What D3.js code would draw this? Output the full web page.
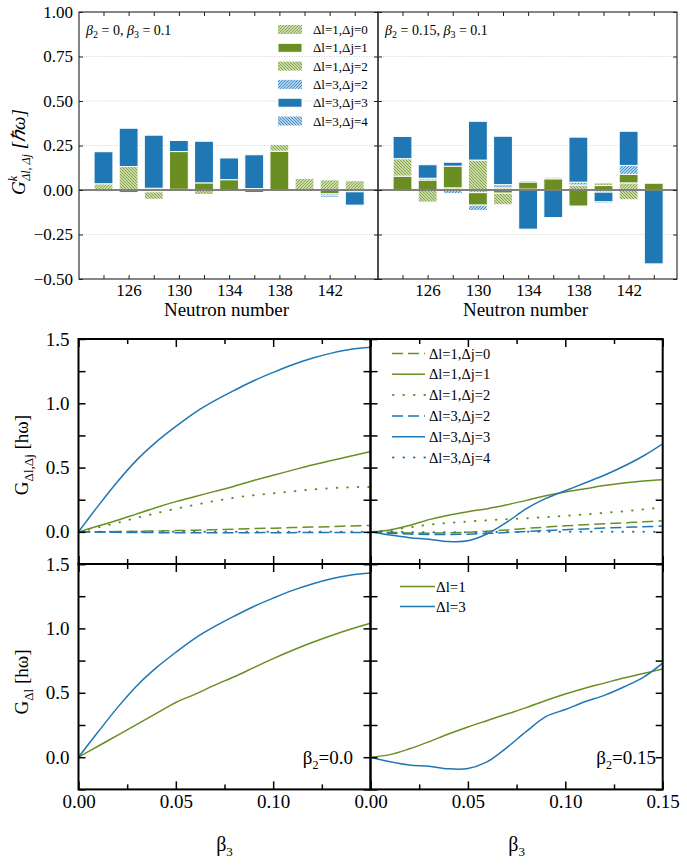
<!DOCTYPE html>
<html>
<head>
<meta charset="utf-8">
<script src="https://cdn.jsdelivr.net/npm/d3@7"></script>
<style>
  body { margin: 0; background: #fff; }
  svg { display: block; }
  svg text { font-family: "Liberation Serif", "Times New Roman", serif; }
</style>
</head>
<body>
<div id="chart"></div>
<script>
// ---- DATA -------------------------------------------------------------
const neutronNumbers = [124, 126, 128, 130, 132, 134, 136, 138, 140, 142, 144];
const neutronTickLabels = [126, 130, 134, 138, 142];
const componentLabels = ["Δl=1,Δj=0", "Δl=1,Δj=1", "Δl=1,Δj=2", "Δl=3,Δj=2", "Δl=3,Δj=3", "Δl=3,Δj=4"];

// bar components, beta2 = 0, beta3 = 0.1
const sph_l1j0 = [0.035, 0, 0.01, 0.004, 0, 0, 0.008, 0, 0.065, 0.057, 0.052];
const sph_l1j1 = [-0.01, -0.015, -0.01, 0.212, 0.04, 0.058, -0.015, 0.218, 0, -0.022, 0];
const sph_l1j2 = [-0.005, 0.132, -0.042, 0, -0.025, 0, -0.003, 0.038, 0, 0, 0];
const sph_l3j2 = [0, -0.005, 0, -0.003, 0, 0, -0.003, 0, -0.003, -0.012, -0.01];
const sph_l3j3 = [0.18, 0.215, 0.298, 0.062, 0.235, 0.122, 0.19, 0, 0, -0.008, -0.075];
const sph_l3j4 = [0, 0, 0, 0, 0.005, 0, 0, 0.003, 0, 0, 0];

// bar components, beta2 = 0.15, beta3 = 0.1
const def_l1j0 = [0, 0, 0.012, -0.015, 0.012, 0.005, 0, 0, 0, 0.04, 0];
const def_l1j1 = [0.078, 0.056, 0.122, -0.07, -0.018, 0.04, 0.063, -0.09, 0.025, 0.048, 0.038];
const def_l1j2 = [0.098, -0.068, 0, 0.168, -0.065, 0.008, 0.01, 0.028, 0.015, -0.055, 0];
const def_l3j2 = [-0.003, 0.01, -0.02, -0.03, 0.018, 0, 0, 0.016, -0.012, 0.05, 0];
const def_l3j3 = [0.125, 0.076, 0.022, 0.218, 0.272, -0.22, -0.155, 0.254, -0.055, 0.192, -0.415];
const def_l3j4 = [0, 0, 0, 0, 0, 0, 0.004, 0.004, -0.008, 0, 0];

// curves vs beta3
const beta3 = [0, 0.01, 0.02, 0.03, 0.04, 0.05, 0.06, 0.07, 0.08, 0.09, 0.10, 0.11, 0.12, 0.13, 0.14, 0.15];

const gSph_l1j0 = [0, 0.001, 0.002, 0.004, 0.007, 0.01, 0.013, 0.017, 0.021, 0.025, 0.029, 0.033, 0.037, 0.041, 0.046, 0.05];
const gSph_l1j1 = [0, 0.045, 0.09, 0.14, 0.19, 0.235, 0.275, 0.315, 0.355, 0.40, 0.44, 0.48, 0.52, 0.555, 0.59, 0.625];
const gSph_l1j2 = [0, 0.035, 0.07, 0.11, 0.145, 0.18, 0.21, 0.24, 0.265, 0.285, 0.30, 0.315, 0.33, 0.34, 0.347, 0.35];
const gSph_l3j2 = [0, -0.002, -0.004, -0.005, -0.006, -0.007, -0.007, -0.007, -0.007, -0.006, -0.006, -0.006, -0.005, -0.005, -0.005, -0.005];
const gSph_l3j3 = [0, 0.2, 0.39, 0.56, 0.70, 0.82, 0.93, 1.02, 1.10, 1.175, 1.24, 1.30, 1.35, 1.39, 1.42, 1.435];
const gSph_l3j4 = [0, 0, 0, 0, 0, 0, 0, 0, 0, 0, 0, 0, 0, 0, 0, 0];

const gDef_l1j0 = [0, -0.003, -0.008, -0.01, -0.008, -0.003, 0.005, 0.015, 0.027, 0.037, 0.047, 0.055, 0.063, 0.07, 0.078, 0.085];
const gDef_l1j1 = [0, 0.015, 0.05, 0.095, 0.13, 0.157, 0.18, 0.21, 0.245, 0.28, 0.31, 0.335, 0.36, 0.38, 0.395, 0.405];
const gDef_l1j2 = [0, 0.015, 0.035, 0.055, 0.07, 0.08, 0.09, 0.098, 0.105, 0.115, 0.125, 0.135, 0.148, 0.16, 0.175, 0.19];
const gDef_l3j2 = [0, -0.01, -0.017, -0.02, -0.02, -0.018, -0.012, -0.005, 0.003, 0.01, 0.017, 0.023, 0.03, 0.035, 0.04, 0.045];
const gDef_l3j3 = [0, -0.025, -0.045, -0.057, -0.075, -0.07, -0.015, 0.075, 0.18, 0.26, 0.32, 0.38, 0.44, 0.51, 0.59, 0.685];
const gDef_l3j4 = [0, 0, -0.002, -0.003, -0.003, -0.003, -0.002, -0.001, 0, 0, 0, 0, 0, 0, 0, 0];

const gSumSph_l1 = [0, 0.085, 0.17, 0.255, 0.34, 0.425, 0.49, 0.56, 0.625, 0.695, 0.765, 0.83, 0.89, 0.945, 0.995, 1.04];
const gSumSph_l3 = [0, 0.195, 0.385, 0.555, 0.695, 0.815, 0.925, 1.015, 1.095, 1.17, 1.235, 1.295, 1.345, 1.385, 1.415, 1.43];
const gSumDef_l1 = [0, 0.02, 0.065, 0.12, 0.18, 0.235, 0.285, 0.335, 0.385, 0.44, 0.49, 0.535, 0.575, 0.615, 0.65, 0.685];
const gSumDef_l3 = [0, -0.035, -0.06, -0.07, -0.09, -0.088, -0.035, 0.075, 0.2, 0.315, 0.37, 0.43, 0.48, 0.545, 0.62, 0.73];

const sumLabels = ["Δl=1", "Δl=3"];

// ---- STYLE ------------------------------------------------------------
const GREEN = "#6b8e23";
const BLUE = "#1f77b4";
const componentFills = ["url(#hG0)", GREEN, "url(#hG2)", "url(#hB2)", BLUE, "url(#hB4)"];
const componentLegendY = 29.5, componentLegendStep = 18.3;
const DASH = "11,5", DOT = "0.5,10";
const lineStyles = [
  { color: GREEN, dash: DASH }, { color: GREEN, dash: null }, { color: GREEN, dash: DOT },
  { color: BLUE, dash: DASH }, { color: BLUE, dash: null }, { color: BLUE, dash: DOT }
];

const svg = d3.select("#chart").append("svg").attr("width", 687).attr("height", 865);
const defs = svg.append("defs");

function hatchPattern(id, color, bg, dir) {
  const p = defs.append("pattern").attr("id", id)
    .attr("patternUnits", "userSpaceOnUse").attr("width", 3).attr("height", 3);
  p.append("rect").attr("width", 3).attr("height", 3).attr("fill", bg);
  p.append("path")
    .attr("d", dir === "/" ? "M-1,1 L1,-1 M0,3 L3,0 M2,4 L4,2" : "M-1,2 L1,4 M0,0 L3,3 M2,-1 L4,1")
    .attr("stroke", color).attr("stroke-width", 1.1);
}
hatchPattern("hG0", "#84a742", "#e9f0da", "/");
hatchPattern("hG2", "#7fa23c", "#e6eed5", "\\");
hatchPattern("hB2", "#3a8bcb", "#e2eef8", "/");
hatchPattern("hB4", "#3a8bcb", "#e2eef8", "\\");

// generic inward axis via d3 axis generators
function styledAxis(g, gen, values, size, fmt, pad, fontSize, stroke, width) {
  g.call(gen.tickValues(values).tickSize(size).tickPadding(pad).tickFormat(fmt));
  g.select(".domain").remove();
  g.selectAll(".tick line").attr("stroke", stroke).attr("stroke-width", width);
  g.selectAll(".tick text").attr("fill", "#000").attr("font-size", fontSize);
}

// ---- TOP: stacked bars ------------------------------------------------
function drawBarPanel(x0, x1, series, showYLabels, note) {
  const x = d3.scaleLinear().domain([122.05, 145.85]).range([x0, x1]);
  const y = d3.scaleLinear().domain([-0.5, 1.0]).range([279, 12]);
  const g = svg.append("g");
  const yTicks = [-0.5, -0.25, 0, 0.25, 0.5, 0.75, 1.0];

  // dotted grid
  g.selectAll("line.grid").data([-0.25, 0.25, 0.5, 0.75]).join("line")
    .attr("x1", x0).attr("x2", x1).attr("y1", d => y(d)).attr("y2", d => y(d))
    .attr("stroke", "#c8c8c8").attr("stroke-width", 0.8).attr("stroke-dasharray", "1,1.5");

  // stacked segments (positive up, negative down)
  const segs = [];
  neutronNumbers.forEach((n, i) => {
    let pos = 0, neg = 0;
    series.forEach((arr, k) => {
      const v = arr[i];
      if (!v) return;
      let a, b;
      if (v > 0) { a = pos; b = pos + v; pos = b; } else { a = neg; b = neg + v; neg = b; }
      segs.push({ n, lo: Math.min(a, b), hi: Math.max(a, b), k });
    });
  });
  g.selectAll("rect.bar").data(segs).join("rect")
    .attr("x", d => x(d.n - 0.75)).attr("width", d => x(d.n + 0.75) - x(d.n - 0.75))
    .attr("y", d => y(d.hi)).attr("height", d => y(d.lo) - y(d.hi))
    .attr("fill", d => componentFills[d.k]).attr("stroke", "#fff").attr("stroke-width", 1);

  // zero line
  g.append("line").attr("x1", x0).attr("x2", x1).attr("y1", y(0)).attr("y2", y(0))
    .attr("stroke", "#808080").attr("stroke-width", 2);

  // frame + ticks
  g.append("rect").attr("x", x0).attr("y", 12).attr("width", x1 - x0).attr("height", 267)
    .attr("fill", "none").attr("stroke", "#222").attr("stroke-width", 1.1);
  styledAxis(g.append("g").attr("transform", `translate(${x0},0)`), d3.axisLeft(y), yTicks, -4,
    showYLabels ? d3.format(".2f") : "", 6, 17, "#222", 1);
  styledAxis(g.append("g").attr("transform", `translate(${x1},0)`), d3.axisRight(y), yTicks, -4, "", 6, 17, "#222", 1);
  styledAxis(g.append("g").attr("transform", "translate(0,279)"), d3.axisBottom(x), neutronNumbers, -4, "", 6, 17, "#222", 1);
  styledAxis(g.append("g").attr("transform", "translate(0,12)"), d3.axisTop(x), neutronNumbers, -4, "", 6, 17, "#222", 1);
  styledAxis(g.append("g").attr("transform", "translate(0,279)"), d3.axisBottom(x), neutronTickLabels, 0, d3.format("d"), 5, 17, "#222", 0);

  g.append("text").attr("x", (x0 + x1) / 2 - 2).attr("y", 316).attr("text-anchor", "middle")
    .attr("font-size", 19).text("Neutron number");

  // beta annotation
  const t = g.append("text").attr("x", x0 + 7).attr("y", 35).attr("font-size", 14);
  t.append("tspan").attr("font-style", "italic").text("β");
  t.append("tspan").attr("font-size", 10).attr("dy", 3).text("2");
  t.append("tspan").attr("dy", -3).text(` = ${note[0]},  `);
  t.append("tspan").attr("font-style", "italic").text("β");
  t.append("tspan").attr("font-size", 10).attr("dy", 3).text("3");
  t.append("tspan").attr("dy", -3).text(` = ${note[1]}`);
  return g;
}

const topLeft = drawBarPanel(79, 378, [sph_l1j0, sph_l1j1, sph_l1j2, sph_l3j2, sph_l3j3, sph_l3j4], true, ["0", "0.1"]);
drawBarPanel(378, 677, [def_l1j0, def_l1j1, def_l1j2, def_l3j2, def_l3j3, def_l3j4], false, ["0.15", "0.1"]);

// legend of components
const leg = topLeft.append("g");
componentLabels.forEach((lab, k) => {
  const cy = componentLegendY + k * componentLegendStep;
  leg.append("rect").attr("x", 278).attr("y", cy - 4.5).attr("width", 24).attr("height", 9)
    .attr("fill", componentFills[k]).attr("stroke", k === 1 || k === 4 ? "#fff" : "none");
  leg.append("text").attr("x", 313).attr("y", cy + 4.5).attr("font-size", 13).text(lab);
});

// top y label
const yl = svg.append("text").attr("transform", "translate(25,152) rotate(-90)")
  .attr("text-anchor", "middle").attr("font-size", 19).attr("font-style", "italic");
yl.append("tspan").text("G");
yl.append("tspan").attr("font-size", 12).attr("dy", -8).text("k");
yl.append("tspan").attr("font-size", 12).attr("dx", -5).attr("dy", 13).text("Δl, Δj");
yl.append("tspan").attr("dy", -5).text(" [ℏω]");

// ---- LOWER: curves ----------------------------------------------------
function drawCurvePanel(x0, x1, yTop, yBot, seriesList, styles, xLabels) {
  const x = d3.scaleLinear().domain([0, 0.15]).range([x0, x1]);
  const y = d3.scaleLinear().domain([-0.25, 1.5]).range([yBot, yTop]);
  const g = svg.append("g");
  const clipId = "clip" + Math.round(x0) + Math.round(yTop);
  defs.append("clipPath").attr("id", clipId).append("rect")
    .attr("x", x0).attr("y", yTop).attr("width", x1 - x0).attr("height", yBot - yTop);

  const line = d3.line().x((d, i) => x(beta3[i])).y(d => y(d)).curve(d3.curveCatmullRom.alpha(0.5));
  g.append("g").attr("clip-path", `url(#${clipId})`).selectAll("path").data(seriesList).join("path")
    .attr("d", d => line(d)).attr("fill", "none")
    .attr("stroke", (d, i) => styles[i].color)
    .attr("stroke-width", (d, i) => styles[i].dash === DOT ? 2 : 1.5)
    .attr("stroke-dasharray", (d, i) => styles[i].dash)
    .attr("stroke-linecap", (d, i) => styles[i].dash === DOT ? "round" : "butt");

  const yTicks = [-0.25, 0, 0.25, 0.5, 0.75, 1.0, 1.25, 1.5];
  const xMajor = [0, 0.05, 0.10, 0.15], xMinor = [0.025, 0.075, 0.125];
  styledAxis(g.append("g").attr("transform", `translate(${x0},0)`), d3.axisLeft(y), yTicks, -7, "", 8, 19, "#000", 1.5);
  styledAxis(g.append("g").attr("transform", `translate(${x1},0)`), d3.axisRight(y), yTicks, -7, "", 8, 19, "#000", 1.5);
  [[yTop, d3.axisTop], [yBot, d3.axisBottom]].forEach(([yy, gen]) => {
    styledAxis(g.append("g").attr("transform", `translate(0,${yy})`), gen(x), xMajor, -8, "", 6, 19, "#000", 1.5);
    styledAxis(g.append("g").attr("transform", `translate(0,${yy})`), gen(x), xMinor, -5, "", 6, 19, "#000", 1.5);
  });
  g.append("rect").attr("x", x0).attr("y", yTop).attr("width", x1 - x0).attr("height", yBot - yTop)
    .attr("fill", "none").attr("stroke", "#000").attr("stroke-width", 2);
  if (xLabels) {
    styledAxis(g.append("g").attr("transform", `translate(0,${yBot})`), d3.axisBottom(x), xLabels, 0,
      d3.format(".2f"), 5, 19, "#000", 0);
    const t = g.append("text").attr("x", (x0 + x1) / 2).attr("y", 851).attr("text-anchor", "middle").attr("font-size", 20);
    t.append("tspan").text("β");
    t.append("tspan").attr("font-size", 13).attr("dy", 5).text("3");
  }
  return { g, x, y };
}

const yLabelTicks = [0, 0.5, 1.0, 1.5];
const midL = drawCurvePanel(78.5, 370.5, 339, 564,
  [gSph_l1j0, gSph_l1j1, gSph_l1j2, gSph_l3j2, gSph_l3j3, gSph_l3j4], lineStyles, null);
const midR = drawCurvePanel(370.5, 662.7, 339, 564,
  [gDef_l1j0, gDef_l1j1, gDef_l1j2, gDef_l3j2, gDef_l3j3, gDef_l3j4], lineStyles, null);
const sumStyles = [{ color: GREEN, dash: null }, { color: BLUE, dash: null }];
const botL = drawCurvePanel(78.5, 370.5, 564, 789.4, [gSumSph_l1, gSumSph_l3], sumStyles, [0, 0.05, 0.10]);
const botR = drawCurvePanel(370.5, 662.7, 564, 789.4, [gSumDef_l1, gSumDef_l3], sumStyles, [0, 0.05, 0.10, 0.15]);

// y tick labels on the left panels
[midL, botL].forEach(p => {
  styledAxis(p.g.append("g").attr("transform", "translate(78.5,0)"), d3.axisLeft(p.y), yLabelTicks, 0,
    d3.format(".1f"), 9, 19, "#000", 0);
});

// legends
const legMid = midR.g.append("g");
componentLabels.forEach((lab, k) => {
  const cy = 353.5 + k * 20.8;
  const st = lineStyles[k];
  legMid.append("line").attr("x1", st.dash === DOT ? 393 : 392).attr("x2", 425).attr("y1", cy).attr("y2", cy)
    .attr("stroke", st.color).attr("stroke-width", st.dash === DOT ? 2 : 1.5)
    .attr("stroke-dasharray", st.dash).attr("stroke-linecap", st.dash === DOT ? "round" : "butt");
  legMid.append("text").attr("x", 429).attr("y", cy + 5).attr("font-size", 14.5).text(lab);
});
const legBot = botR.g.append("g");
sumLabels.forEach((lab, k) => {
  const cy = 586.5 + k * 20;
  legBot.append("line").attr("x1", 400).attr("x2", 435).attr("y1", cy).attr("y2", cy)
    .attr("stroke", sumStyles[k].color).attr("stroke-width", 1.5);
  legBot.append("text").attr("x", 436).attr("y", cy + 5).attr("font-size", 15).text(lab);
});

// beta2 annotations
function betaNote(g, xr, yb, val) {
  const t = g.append("text").attr("x", xr).attr("y", yb).attr("text-anchor", "end").attr("font-size", 19);
  t.append("tspan").text("β");
  t.append("tspan").attr("font-size", 12).attr("dy", 5).text("2");
  t.append("tspan").attr("dy", -5).text("=" + val);
}
betaNote(botL.g, 353, 764, "0.0");
betaNote(botR.g, 656, 764, "0.15");

// y labels of the curve rows
function rowLabel(cy, sub) {
  const t = svg.append("text").attr("transform", `translate(28,${cy}) rotate(-90)`)
    .attr("text-anchor", "middle").attr("font-size", 19);
  t.append("tspan").text("G");
  t.append("tspan").attr("font-size", 13).attr("dy", 5).text(sub);
  t.append("tspan").attr("dy", -5).text(" [hω]");
}
rowLabel(455, "Δl,Δj");
rowLabel(682, "Δl");
</script>
</body>
</html>
